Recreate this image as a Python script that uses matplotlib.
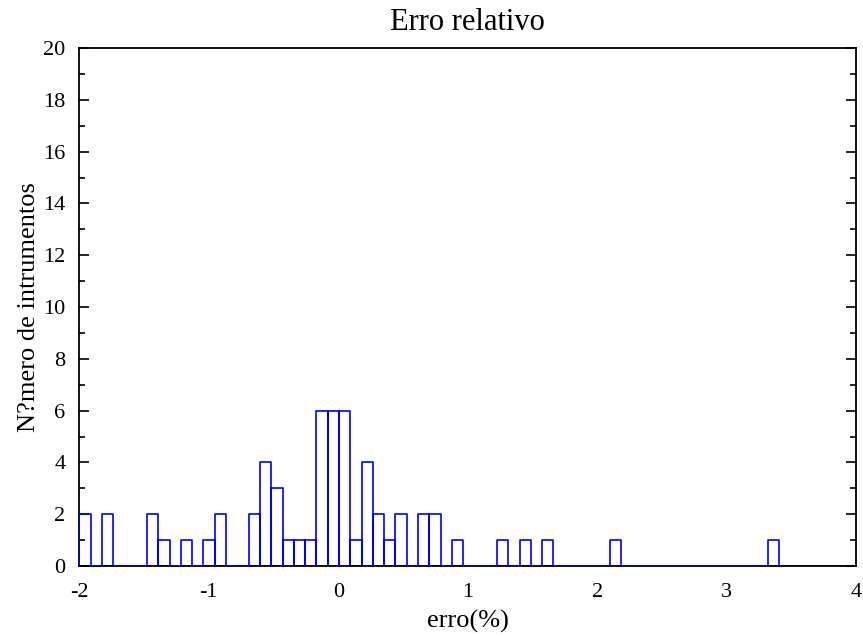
import matplotlib
matplotlib.use("Agg")
import matplotlib.pyplot as plt
import numpy as np
from matplotlib.ticker import MultipleLocator

# histogram of relative error (%), 62 bins starting at -2
bin_start = -2.0
bin_width = 0.0872
counts = [2, 0, 2, 0, 0, 0, 2, 1, 0, 1, 0, 1, 2, 0, 0, 2,
          4, 3, 1, 1, 1, 6, 6, 6, 1, 4, 2, 1, 2, 0, 2, 2,
          0, 1, 0, 0, 0, 1, 0, 1, 0, 1, 0, 0, 0, 0, 0, 1,
          0, 0, 0, 0, 0, 0, 0, 0, 0, 0, 0, 0, 0, 1]
xticks = [-2, -1, 0, 1, 2, 3, 4]
yticks = list(range(0, 21, 2))

plt.rcParams['font.family'] = ['Liberation Serif', 'DejaVu Serif']

fig = plt.figure(figsize=(8.63, 6.36), dpi=100)
ax = fig.add_axes([0.0919, 0.110, 0.9001, 0.8145])

counts = np.array(counts)
left = bin_start + bin_width * np.arange(len(counts))
right = left + bin_width

# matlab-style outline: up, across, down for every bin
xs = np.column_stack([left, left, right, right]).ravel()
ys = np.column_stack([np.zeros_like(counts), counts, counts,
                      np.zeros_like(counts)]).ravel()
ax.axhline(0, color='blue', lw=1.2, zorder=2)
ax.plot(xs, ys, color='blue', lw=1.2, zorder=3)

ax.set_xlim(-2, 4)
ax.set_ylim(0, 20)
ax.set_xticks(xticks)
ax.set_xticklabels([str(t) for t in xticks])
ax.set_yticks(yticks)
ax.yaxis.set_minor_locator(MultipleLocator(1))
ax.tick_params(axis='x', length=0, labelsize=16, pad=12)
ax.tick_params(axis='y', which='major', direction='in', length=7,
               width=1.2, left=True, right=True, labelsize=16, pad=10)
ax.tick_params(axis='y', which='minor', direction='in', length=4,
               width=1.2, left=True, right=True)
for s in ax.spines.values():
    s.set_linewidth(1.3)

ax.set_title("Erro relativo", fontsize=22, pad=13)
ax.set_xlabel("erro(%)", fontsize=19, labelpad=6)
ax.set_ylabel("N?mero de intrumentos", fontsize=19, labelpad=2)

fig.savefig("out.png", dpi=100)
